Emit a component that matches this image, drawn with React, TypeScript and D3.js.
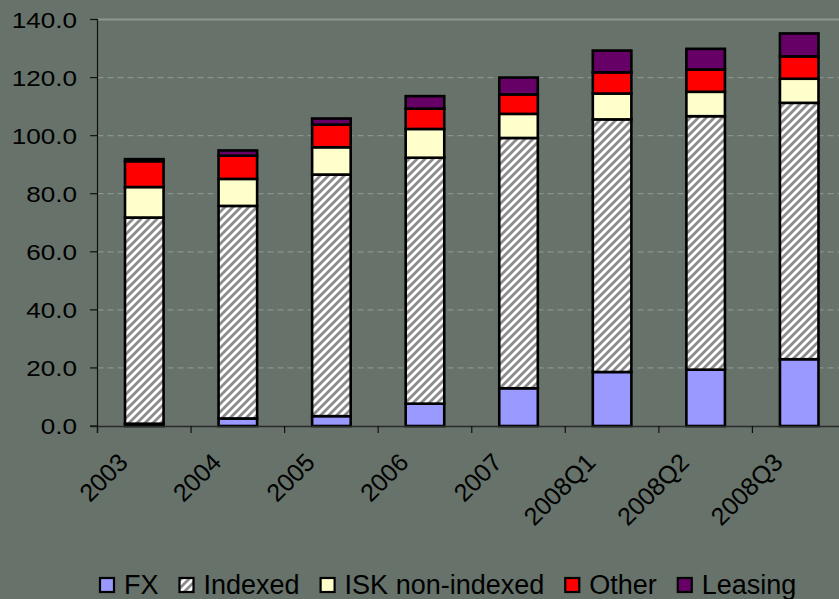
import React, { useEffect, useRef } from "react";
import * as d3 from "d3";

const categories = ["2003", "2004", "2005", "2006", "2007", "2008Q1", "2008Q2", "2008Q3"];
const seriesNames = ["FX", "Indexed", "ISK non-indexed", "Other", "Leasing"];
const fx = [0.8, 2.6, 3.4, 7.7, 13.0, 18.6, 19.4, 23.0];
const indexed = [71.0, 73.2, 83.2, 84.7, 86.2, 87.0, 87.3, 88.3];
const iskNonIndexed = [10.5, 9.3, 9.4, 9.9, 8.3, 8.9, 8.4, 8.3];
const other = [8.9, 8.0, 7.8, 7.0, 6.7, 7.3, 7.7, 7.7];
const leasing = [0.7, 1.8, 2.1, 4.3, 5.8, 7.5, 7.1, 7.9];
const yTicks = [0, 20, 40, 60, 80, 100, 120, 140];

const W = 839;
const H = 599;
const BG = "#66726a";
const FONT = "'Liberation Sans', Arial, sans-serif";
const fills = ["#9999ff", "url(#hatch)", "#ffffcc", "#ff0000", "#660066"];

export default function App() {
  const ref = useRef<SVGSVGElement>(null);

  useEffect(() => {
    const svg = d3.select(ref.current);
    svg.selectAll("*").remove();

    const defs = svg.append("defs");
    const pat = defs
      .append("pattern")
      .attr("id", "hatch")
      .attr("patternUnits", "userSpaceOnUse")
      .attr("width", 8)
      .attr("height", 8);
    pat.append("rect").attr("width", 8).attr("height", 8).attr("fill", "#ffffff");
    pat
      .append("path")
      .attr("d", "M-2,10 L10,-2 M-2,2 L2,-2 M6,10 L10,6")
      .attr("stroke", "#8c8c8c")
      .attr("stroke-width", 2.8);

    svg.append("rect").attr("width", W).attr("height", H).attr("fill", BG);

    const left = 97.5;
    const x = d3
      .scaleBand<string>()
      .domain(categories)
      .range([left, 846])
      .paddingInner(0.588)
      .paddingOuter(0.294);
    const y = d3.scaleLinear().domain([0, 140]).range([426, 19.5]);

    // gridlines
    const g = svg.append("g");
    yTicks.forEach((t) => {
      if (t === 0) return;
      g.append("line")
        .attr("x1", left)
        .attr("x2", W)
        .attr("y1", y(t))
        .attr("y2", y(t))
        .attr("stroke", t === 140 ? "#8e9891" : "#8a948d")
        .attr("stroke-width", t === 140 ? 2 : 1.2)
        .attr("stroke-dasharray", t === 140 ? null : "6,4");
    });

    // stacked bars
    const rows = categories.map((c, i) => ({
      cat: c,
      FX: fx[i],
      Indexed: indexed[i],
      "ISK non-indexed": iskNonIndexed[i],
      Other: other[i],
      Leasing: leasing[i],
    }));
    const stack = d3.stack<any>().keys(seriesNames)(rows);
    stack.forEach((layer, si) => {
      svg
        .append("g")
        .selectAll("rect")
        .data(layer)
        .join("rect")
        .attr("x", (d: any) => x(d.data.cat)!)
        .attr("width", x.bandwidth())
        .attr("y", (d: any) => y(d[1]))
        .attr("height", (d: any) => y(d[0]) - y(d[1]))
        .attr("fill", fills[si])
        .attr("stroke", "#000")
        .attr("stroke-width", 2.6);
    });

    // axes
    svg
      .append("line")
      .attr("x1", 90)
      .attr("x2", W)
      .attr("y1", 426.5)
      .attr("y2", 426.5)
      .attr("stroke", "#2a2a2a")
      .attr("stroke-width", 1.5);
    svg
      .append("line")
      .attr("x1", left)
      .attr("x2", left)
      .attr("y1", 19)
      .attr("y2", 433)
      .attr("stroke", "#111")
      .attr("stroke-width", 1.2);
    const step = x.step();
    categories.forEach((c, i) => {
      const bx = left + i * step;
      svg
        .append("line")
        .attr("x1", bx)
        .attr("x2", bx)
        .attr("y1", 426)
        .attr("y2", 433)
        .attr("stroke", "#111")
        .attr("stroke-width", 1.2);
    });
    yTicks.forEach((t) => {
      svg
        .append("line")
        .attr("x1", 90)
        .attr("x2", left)
        .attr("y1", y(t))
        .attr("y2", y(t))
        .attr("stroke", "#111")
        .attr("stroke-width", 1.2);
      svg
        .append("text")
        .attr("transform", `translate(77,${y(t)}) scale(1.16,1)`)
        .attr("text-anchor", "end")
        .attr("dy", "0.36em")
        .attr("font-family", FONT)
        .attr("font-size", 22.5)
        .attr("fill", "#000")
        .text(d3.format(".1f")(t));
    });

    // x labels
    categories.forEach((c) => {
      const cx = x(c)! + x.bandwidth() / 2;
      svg
        .append("text")
        .attr("transform", `translate(${cx - 15},${464}) rotate(-45)`)
        .attr("text-anchor", "end")
        .attr("font-family", FONT)
        .attr("font-size", 25)
        .attr("fill", "#000")
        .text(c);
    });

    // legend
    let lx = 99;
    seriesNames.forEach((name, si) => {
      svg
        .append("rect")
        .attr("x", lx + 1)
        .attr("y", 578)
        .attr("width", 14)
        .attr("height", 14)
        .attr("fill", fills[si])
        .attr("stroke", "#000")
        .attr("stroke-width", 2.2);
      const t = svg
        .append("text")
        .attr("x", lx + 25)
        .attr("y", 594)
        .attr("font-family", FONT)
        .attr("font-size", 27)
        .attr("fill", "#000")
        .text(name);
      const len = (t.node() as SVGTextElement).getComputedTextLength();
      lx = lx + 25 + len + 20;
    });
  }, []);

  return (
    <svg
      ref={ref}
      width={W}
      height={H}
      style={{ position: "absolute", left: 0, top: 0, display: "block" }}
    />
  );
}
